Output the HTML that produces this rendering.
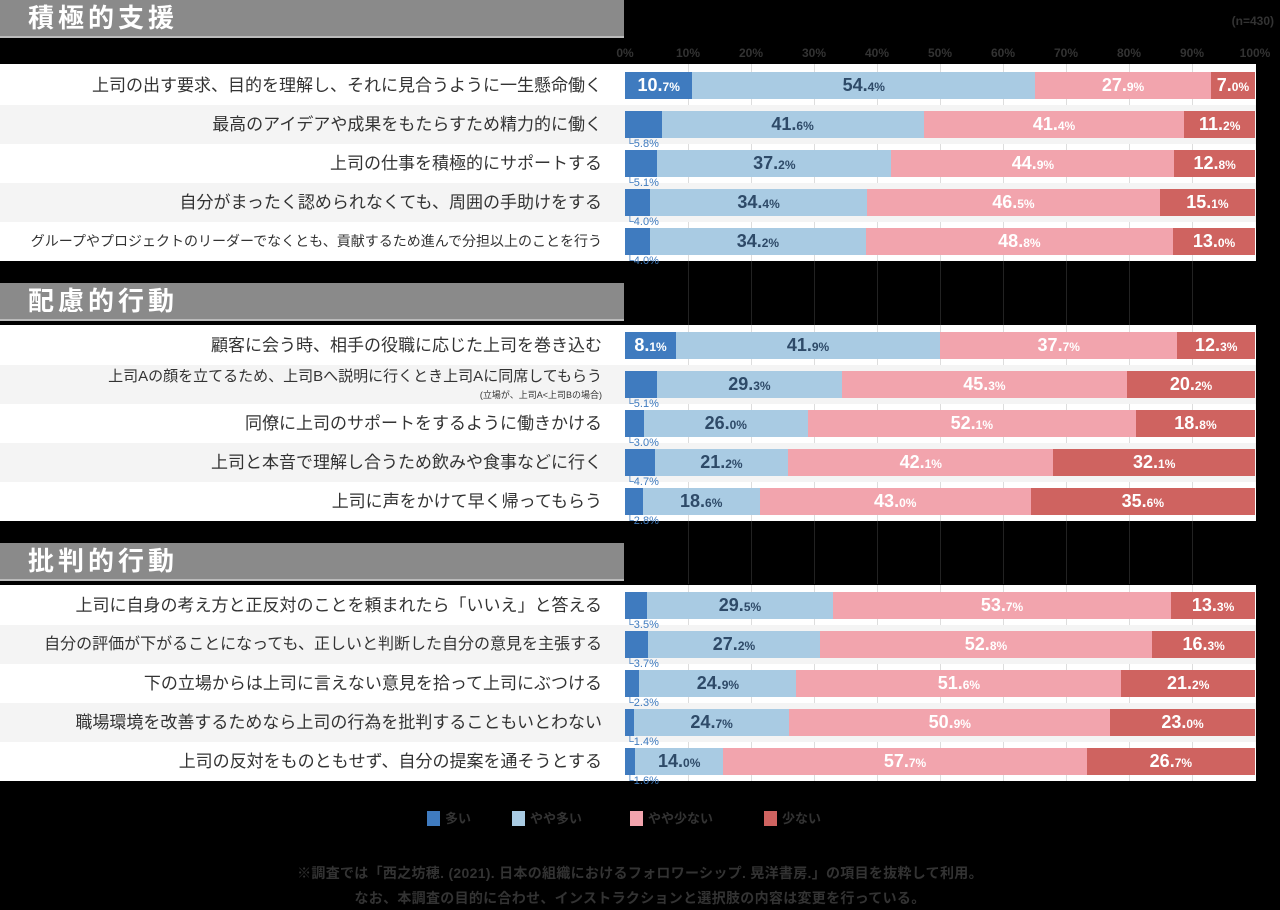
<!DOCTYPE html>
<html><head><meta charset="utf-8"><style>
*{margin:0;padding:0;box-sizing:border-box}
body{width:1280px;height:910px;background:#000;position:relative;overflow:hidden;font-family:"Liberation Sans","Noto Sans CJK JP",sans-serif}
.hd{position:absolute;left:0;width:624px;height:38px;background:#8a8a8a;border-bottom:2px solid #bbb;color:#fff;font-size:26px;font-weight:bold;letter-spacing:4px;padding-left:28px;line-height:37px}
.band{position:absolute;left:0;width:1256px;background:#fff}
.row{position:absolute;left:0;width:1256px;height:39px}
.row.g{background:#f4f4f4}
.lb{position:absolute;right:654px;top:0;line-height:39px;font-size:17px;color:#333;white-space:nowrap}
.bar{position:absolute;left:625px;width:630px;top:6px;height:27px;display:flex}
.bar div{height:100%;text-align:center;line-height:27px;font-size:18px;font-weight:bold;color:#fff;white-space:nowrap;overflow:visible}
.bar small{font-size:12px}
.a{background:#3f7bbf}.b{background:#a9cbe3;color:#2e4a68!important}.c{background:#f2a4ad}.d{background:#cf6360}
.sm{position:absolute;left:626px;top:33px;font-size:11px;color:#3f7bbf;line-height:12px;z-index:5}
.gl{position:absolute;width:1px;background:#ddd}
.gd{position:absolute;width:1px;background:#222}
.ax{position:absolute;top:46px;font-size:12px;font-weight:bold;color:#333;transform:translateX(-50%)}
.lg{position:absolute;top:808px;font-size:13px;color:#333;font-weight:bold}
.lg i{display:inline-block;width:13px;height:15px;vertical-align:-3px;margin-right:5px}
.ft{position:absolute;left:0;width:1280px;text-align:center;font-size:14px;color:#333;font-weight:bold}
</style></head><body>
<div class="hd" style="top:0">積極的支援</div>
<div class="hd" style="top:283px">配慮的行動</div>
<div class="hd" style="top:543px">批判的行動</div>
<div style="position:absolute;right:6px;top:14px;font-size:12px;color:#333;font-weight:bold">(n=430)</div>
<div class="ax" style="left:625px">0%</div><div class="ax" style="left:688px">10%</div><div class="ax" style="left:751px">20%</div><div class="ax" style="left:814px">30%</div><div class="ax" style="left:877px">40%</div><div class="ax" style="left:940px">50%</div><div class="ax" style="left:1003px">60%</div><div class="ax" style="left:1066px">70%</div><div class="ax" style="left:1129px">80%</div><div class="ax" style="left:1192px">90%</div><div class="ax" style="left:1255px">100%</div>

<div class="gd" style="left:688px;top:261px;height:323px"></div><div class="gd" style="left:751px;top:261px;height:323px"></div><div class="gd" style="left:814px;top:261px;height:323px"></div><div class="gd" style="left:877px;top:261px;height:323px"></div><div class="gd" style="left:940px;top:261px;height:323px"></div><div class="gd" style="left:1003px;top:261px;height:323px"></div><div class="gd" style="left:1066px;top:261px;height:323px"></div><div class="gd" style="left:1129px;top:261px;height:323px"></div><div class="gd" style="left:1192px;top:261px;height:323px"></div>

<div class="band" style="top:64px;height:197px"></div>
<div class="band" style="top:325px;height:196px"></div>
<div class="band" style="top:585px;height:196px"></div>

<div style="position:absolute;left:0;top:0;width:1280px;height:910px">
<div class="gl" style="left:688px;top:64px;height:197px"></div><div class="gl" style="left:751px;top:64px;height:197px"></div><div class="gl" style="left:814px;top:64px;height:197px"></div><div class="gl" style="left:877px;top:64px;height:197px"></div><div class="gl" style="left:940px;top:64px;height:197px"></div><div class="gl" style="left:1003px;top:64px;height:197px"></div><div class="gl" style="left:1066px;top:64px;height:197px"></div><div class="gl" style="left:1129px;top:64px;height:197px"></div><div class="gl" style="left:1192px;top:64px;height:197px"></div>
<div class="gl" style="left:688px;top:325px;height:196px"></div><div class="gl" style="left:751px;top:325px;height:196px"></div><div class="gl" style="left:814px;top:325px;height:196px"></div><div class="gl" style="left:877px;top:325px;height:196px"></div><div class="gl" style="left:940px;top:325px;height:196px"></div><div class="gl" style="left:1003px;top:325px;height:196px"></div><div class="gl" style="left:1066px;top:325px;height:196px"></div><div class="gl" style="left:1129px;top:325px;height:196px"></div><div class="gl" style="left:1192px;top:325px;height:196px"></div>
<div class="gl" style="left:688px;top:585px;height:196px"></div><div class="gl" style="left:751px;top:585px;height:196px"></div><div class="gl" style="left:814px;top:585px;height:196px"></div><div class="gl" style="left:877px;top:585px;height:196px"></div><div class="gl" style="left:940px;top:585px;height:196px"></div><div class="gl" style="left:1003px;top:585px;height:196px"></div><div class="gl" style="left:1066px;top:585px;height:196px"></div><div class="gl" style="left:1129px;top:585px;height:196px"></div><div class="gl" style="left:1192px;top:585px;height:196px"></div>
</div>

<div class="row" style="top:66px"><div class="lb">上司の出す要求、目的を理解し、それに見合うように一生懸命働く</div>
<div class="bar"><div class="a" style="width:10.7%">10.<small>7%</small></div><div class="b" style="width:54.4%">54.<small>4%</small></div><div class="c" style="width:27.9%">27.<small>9%</small></div><div class="d" style="width:7.0%">7.<small>0%</small></div></div></div>
<div class="row g" style="top:105px"><div class="lb">最高のアイデアや成果をもたらすため精力的に働く</div>
<div class="bar"><div class="a" style="width:5.8%"></div><div class="b" style="width:41.6%">41.<small>6%</small></div><div class="c" style="width:41.4%">41.<small>4%</small></div><div class="d" style="width:11.2%">11.<small>2%</small></div></div><div class="sm">└5.8%</div></div>
<div class="row" style="top:144px"><div class="lb">上司の仕事を積極的にサポートする</div>
<div class="bar"><div class="a" style="width:5.1%"></div><div class="b" style="width:37.2%">37.<small>2%</small></div><div class="c" style="width:44.9%">44.<small>9%</small></div><div class="d" style="width:12.8%">12.<small>8%</small></div></div><div class="sm">└5.1%</div></div>
<div class="row g" style="top:183px"><div class="lb">自分がまったく認められなくても、周囲の手助けをする</div>
<div class="bar"><div class="a" style="width:4.0%"></div><div class="b" style="width:34.4%">34.<small>4%</small></div><div class="c" style="width:46.5%">46.<small>5%</small></div><div class="d" style="width:15.1%">15.<small>1%</small></div></div><div class="sm">└4.0%</div></div>
<div class="row" style="top:222px"><div class="lb" style="font-size:14px">グループやプロジェクトのリーダーでなくとも、貢献するため進んで分担以上のことを行う</div>
<div class="bar"><div class="a" style="width:4.0%"></div><div class="b" style="width:34.2%">34.<small>2%</small></div><div class="c" style="width:48.8%">48.<small>8%</small></div><div class="d" style="width:13.0%">13.<small>0%</small></div></div><div class="sm">└4.0%</div></div>

<div class="row" style="top:326px"><div class="lb">顧客に会う時、相手の役職に応じた上司を巻き込む</div>
<div class="bar"><div class="a" style="width:8.1%">8.<small>1%</small></div><div class="b" style="width:41.9%">41.<small>9%</small></div><div class="c" style="width:37.7%">37.<small>7%</small></div><div class="d" style="width:12.3%">12.<small>3%</small></div></div></div>
<div class="row g" style="top:365px"><div class="lb" style="font-size:15px;line-height:24px">上司Aの顔を立てるため、上司Bへ説明に行くとき上司Aに同席してもらう</div><div style="position:absolute;right:654px;top:23px;font-size:9px;color:#333">(立場が、上司A&lt;上司Bの場合)</div>
<div class="bar"><div class="a" style="width:5.1%"></div><div class="b" style="width:29.3%">29.<small>3%</small></div><div class="c" style="width:45.3%">45.<small>3%</small></div><div class="d" style="width:20.3%">20.<small>2%</small></div></div><div class="sm">└5.1%</div></div>
<div class="row" style="top:404px"><div class="lb">同僚に上司のサポートをするように働きかける</div>
<div class="bar"><div class="a" style="width:3.0%"></div><div class="b" style="width:26.0%">26.<small>0%</small></div><div class="c" style="width:52.1%">52.<small>1%</small></div><div class="d" style="width:18.9%">18.<small>8%</small></div></div><div class="sm">└3.0%</div></div>
<div class="row g" style="top:443px"><div class="lb">上司と本音で理解し合うため飲みや食事などに行く</div>
<div class="bar"><div class="a" style="width:4.7%"></div><div class="b" style="width:21.2%">21.<small>2%</small></div><div class="c" style="width:42.1%">42.<small>1%</small></div><div class="d" style="width:32.0%">32.<small>1%</small></div></div><div class="sm">└4.7%</div></div>
<div class="row" style="top:482px"><div class="lb">上司に声をかけて早く帰ってもらう</div>
<div class="bar"><div class="a" style="width:2.8%"></div><div class="b" style="width:18.6%">18.<small>6%</small></div><div class="c" style="width:43.0%">43.<small>0%</small></div><div class="d" style="width:35.6%">35.<small>6%</small></div></div><div class="sm">└2.8%</div></div>

<div class="row" style="top:586px"><div class="lb">上司に自身の考え方と正反対のことを頼まれたら「いいえ」と答える</div>
<div class="bar"><div class="a" style="width:3.5%"></div><div class="b" style="width:29.5%">29.<small>5%</small></div><div class="c" style="width:53.7%">53.<small>7%</small></div><div class="d" style="width:13.3%">13.<small>3%</small></div></div><div class="sm">└3.5%</div></div>
<div class="row g" style="top:625px"><div class="lb" style="font-size:16px">自分の評価が下がることになっても、正しいと判断した自分の意見を主張する</div>
<div class="bar"><div class="a" style="width:3.7%"></div><div class="b" style="width:27.2%">27.<small>2%</small></div><div class="c" style="width:52.8%">52.<small>8%</small></div><div class="d" style="width:16.3%">16.<small>3%</small></div></div><div class="sm">└3.7%</div></div>
<div class="row" style="top:664px"><div class="lb">下の立場からは上司に言えない意見を拾って上司にぶつける</div>
<div class="bar"><div class="a" style="width:2.3%"></div><div class="b" style="width:24.9%">24.<small>9%</small></div><div class="c" style="width:51.6%">51.<small>6%</small></div><div class="d" style="width:21.2%">21.<small>2%</small></div></div><div class="sm">└2.3%</div></div>
<div class="row g" style="top:703px"><div class="lb">職場環境を改善するためなら上司の行為を批判することもいとわない</div>
<div class="bar"><div class="a" style="width:1.4%"></div><div class="b" style="width:24.7%">24.<small>7%</small></div><div class="c" style="width:50.9%">50.<small>9%</small></div><div class="d" style="width:23.0%">23.<small>0%</small></div></div><div class="sm">└1.4%</div></div>
<div class="row" style="top:742px"><div class="lb">上司の反対をものともせず、自分の提案を通そうとする</div>
<div class="bar"><div class="a" style="width:1.6%"></div><div class="b" style="width:14.0%">14.<small>0%</small></div><div class="c" style="width:57.7%">57.<small>7%</small></div><div class="d" style="width:26.7%">26.<small>7%</small></div></div><div class="sm">└1.6%</div></div>

<div class="lg" style="left:427px"><i class="a"></i>多い</div>
<div class="lg" style="left:512px"><i class="b"></i>やや多い</div>
<div class="lg" style="left:630px"><i class="c"></i>やや少ない</div>
<div class="lg" style="left:764px"><i class="d"></i>少ない</div>
<div class="ft" style="top:863px;letter-spacing:0.3px">※調査では「西之坊穂. (2021). 日本の組織におけるフォロワーシップ. 晃洋書房.」の項目を抜粋して利用。</div>
<div class="ft" style="top:888px;letter-spacing:0.3px">なお、本調査の目的に合わせ、インストラクションと選択肢の内容は変更を行っている。</div>
</body></html>
